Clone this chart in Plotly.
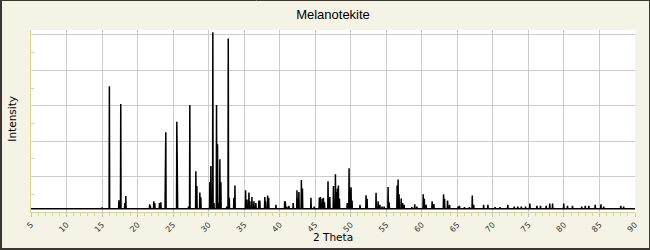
import plotly.graph_objects as go

# ---- data ----
title_text = "Melanotekite"
x_label = "2 Theta"
y_label = "Intensity"
baseline_intensity = 1.9

peak_positions = [
    15.0, 16.03, 17.37, 17.63, 18.2, 18.34, 21.7, 21.8, 22.28, 22.42,
    23.08, 23.27, 23.9, 23.97, 25.52, 25.6, 27.17, 27.35, 28.2, 28.34,
    28.76, 28.9, 30.17, 30.31, 30.59, 30.75, 31.11, 31.25, 31.4, 31.58,
    31.72, 32.55, 32.76, 32.9, 33.55, 33.7, 35.2, 35.4, 35.67, 35.8,
    36.09, 36.37, 36.65, 37.07, 37.2, 37.9, 38.0, 38.3, 38.45, 39.47,
    40.7, 40.8, 41.0, 41.3, 41.9, 42.43, 42.55, 42.7, 43.05, 43.2,
    44.4, 44.85, 45.58, 45.72, 45.98, 46.15, 46.3, 46.8, 47.05, 47.56,
    47.84, 47.98, 48.12, 48.26, 48.4, 49.5, 49.76, 49.9, 50.04, 50.18,
    51.3, 52.15, 52.3, 53.56, 53.85, 54.1, 54.4, 54.7, 55.25, 55.4,
    56.52, 56.66, 56.8, 57.1, 57.3, 57.5, 58.6, 59.0, 59.3, 60.2,
    60.35, 60.6, 61.45, 61.7, 63.06, 63.2, 63.62, 63.9, 65.1, 65.3,
    66.0, 66.7, 67.1, 67.3, 68.7, 69.3, 70.3, 71.0, 72.1, 73.0,
    73.5, 74.0, 74.6, 75.2, 76.2, 76.7, 77.5, 78.0, 78.4, 79.97,
    80.5, 81.2, 82.5, 83.0, 83.5, 84.4, 85.2, 85.6, 88.0, 88.4,
]
peak_intensities = [
    2.5, 71.0, 6.6, 61.0, 5.0, 9.0, 4.4, 3.5, 6.0, 5.0,
    5.0, 5.5, 43.0, 45.0, 51.0, 8.0, 3.0, 60.4, 23.0, 14.7,
    11.0, 8.3, 17.0, 26.0, 101.5, 5.0, 60.4, 38.3, 5.0, 29.8,
    16.8, 3.0, 98.0, 8.0, 8.0, 15.0, 12.3, 7.0, 11.0, 6.0,
    8.5, 6.0, 5.0, 6.5, 6.5, 8.5, 6.0, 9.3, 8.0, 4.0,
    6.0, 5.5, 3.0, 3.5, 5.0, 12.3, 7.5, 11.3, 18.0, 13.2,
    8.0, 3.0, 8.0, 8.5, 7.5, 8.0, 5.5, 17.4, 8.5, 14.7,
    21.3, 11.3, 13.2, 15.0, 7.5, 5.0, 24.7, 13.2, 14.0, 6.5,
    4.0, 9.4, 7.5, 10.8, 6.0, 4.0, 3.0, 3.0, 14.1, 5.5,
    15.0, 18.3, 10.0, 7.6, 5.0, 4.0, 2.8, 4.3, 3.0, 10.0,
    7.5, 4.0, 6.0, 4.5, 10.0, 7.5, 6.5, 4.0, 3.0, 3.5,
    2.8, 2.8, 9.3, 4.0, 4.0, 4.0, 2.8, 2.8, 4.0, 3.0,
    3.0, 3.0, 3.0, 4.8, 3.5, 3.5, 3.5, 4.8, 4.8, 4.8,
    3.5, 3.5, 3.0, 3.5, 3.5, 4.0, 4.3, 3.0, 3.5, 3.0,
]
x_range = [5, 90]
y_range = [0, 102.8]

# ---- build the profile line from the peak list ----
half_width = 0.04
xs = [x_range[0]]
ys = [baseline_intensity]
for p, h in zip(peak_positions, peak_intensities):
    xs += [p - half_width, p, p + half_width]
    ys += [baseline_intensity, h, baseline_intensity]
xs.append(x_range[1])
ys.append(baseline_intensity)

BG = "#F5F2E6"
AXIS_YELLOW = "#DCD38C"
GRID = "#CCCCCC"
BORDER = "#3B3631"

fig = go.Figure()
fig.add_trace(go.Scatter(x=xs, y=ys, mode="lines",
                         line=dict(color="black", width=1.5),
                         hoverinfo="skip", showlegend=False))

W, H = 650, 250
ml, mr, mt, mb = 31, 15, 30, 38
pw, ph = W - ml - mr, H - mt - mb

fig.update_layout(
    width=W, height=H,
    margin=dict(l=ml, r=mr, t=mt, b=mb, pad=0),
    paper_bgcolor=BG, plot_bgcolor="white",
    title=dict(text=title_text, x=0.5, xref="paper", xanchor="center",
               y=1 - 14 / H, yref="container", yanchor="middle",
               font=dict(family="Liberation Sans, Arial", size=13, color="black")),
    xaxis=dict(range=x_range, tick0=5, dtick=5, showline=True,
               linecolor=AXIS_YELLOW, linewidth=1, ticks="outside", ticklen=4,
               tickcolor="#C4C4C4", tickangle=-45, showgrid=True,
               gridcolor=GRID, gridwidth=1, zeroline=False,
               tickfont=dict(family="DejaVu Sans", size=8, color="#333333"),
               minor=dict(dtick=1, ticks="outside", ticklen=3,
                          tickcolor=AXIS_YELLOW, showgrid=False)),
    yaxis=dict(range=y_range, dtick=20, showline=True, linecolor=AXIS_YELLOW,
               linewidth=1, ticks="inside", ticklen=3, tickcolor=AXIS_YELLOW,
               showticklabels=False, showgrid=True, gridcolor=GRID,
               gridwidth=1, zeroline=False,
               minor=dict(dtick=10, ticks="inside", ticklen=3,
                          tickcolor=AXIS_YELLOW, showgrid=False)),
    annotations=[
        dict(text=x_label, xref="paper", yref="paper", x=0.5,
             y=-(237 - (mt + ph)) / ph, xanchor="center", yanchor="middle",
             showarrow=False,
             font=dict(family="DejaVu Sans", size=10.5, color="black")),
        dict(text=y_label, xref="paper", yref="paper",
             x=(11.7 - ml) / pw, y=(mt + ph - 119) / ph,
             xanchor="center", yanchor="middle", textangle=-90,
             showarrow=False,
             font=dict(family="DejaVu Sans", size=10.5, color="black")),
    ],
)

# outer frame of the picture
def px_x(p):
    return (p - ml) / pw

def px_y(p):
    return (mt + ph - p) / ph

frame = [
    (px_x(1), px_y(0), px_x(1), px_y(H), 2),      # left
    (px_x(0), px_y(0.5), px_x(W), px_y(0.5), 1),  # top
    (px_x(W - 0.5), px_y(0), px_x(W - 0.5), px_y(H), 1),  # right
    (px_x(0), px_y(H - 1), px_x(W), px_y(H - 1), 2),  # bottom
]
for x0, y0, x1, y1, w in frame:
    fig.add_shape(type="line", xref="paper", yref="paper",
                  x0=x0, y0=y0, x1=x1, y1=y1,
                  line=dict(color=BORDER, width=w), layer="above")

fig.write_html("out.html")
